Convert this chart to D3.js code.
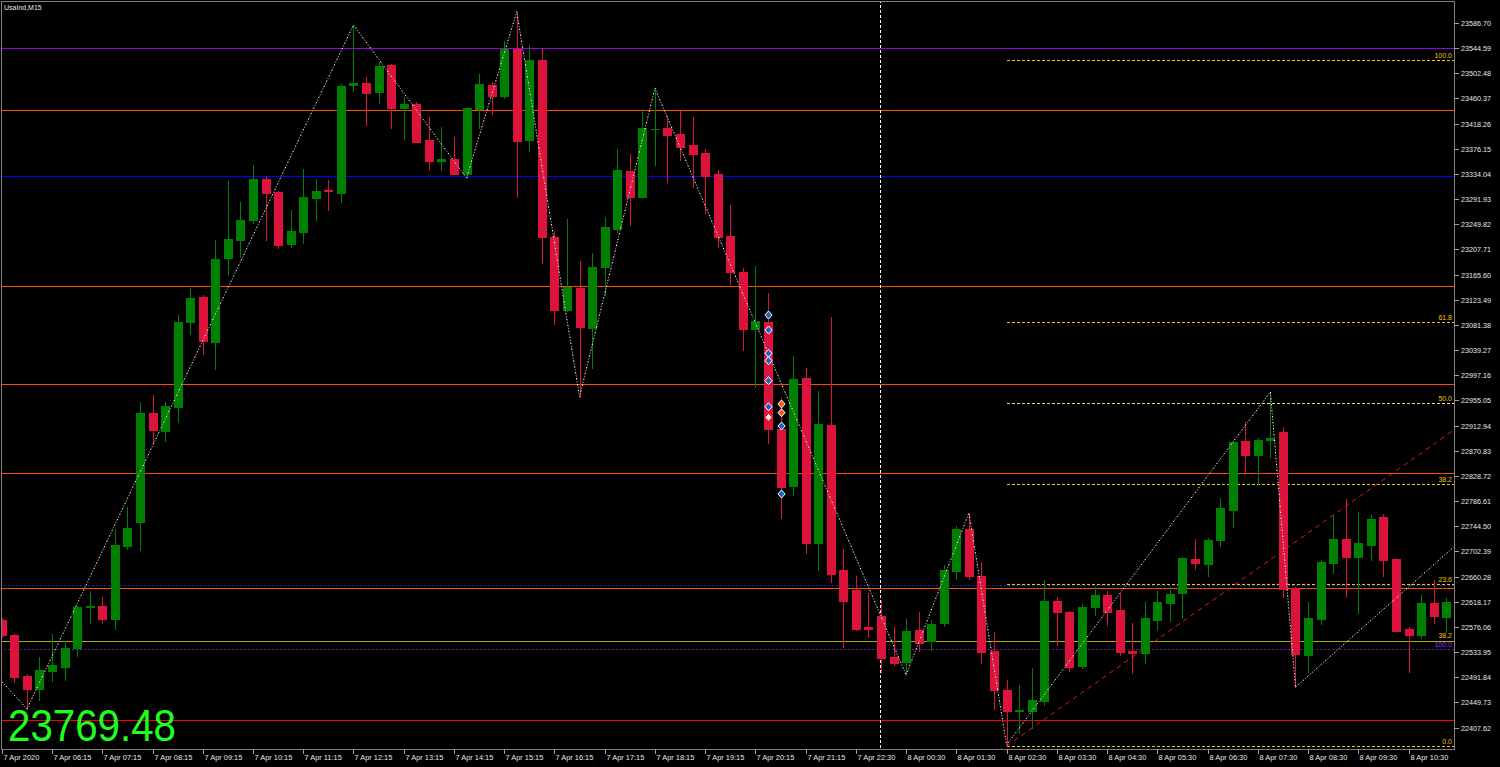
<!DOCTYPE html>
<html><head><meta charset="utf-8">
<script src="https://cdn.jsdelivr.net/npm/d3@7"></script>
<style>html,body{margin:0;padding:0;background:#000;overflow:hidden}</style>
</head><body><svg id="c" width="1500" height="767"></svg>
<script>
// ---------------- DATA ----------------
const symbol = "UsaInd,M15";
const bigPrice = "23769.48";
const opens = [22587.6,22562.5,22493.9,22472.1,22502.2,22509.7,22540.6,22608.5,22611.0,22589.2,
22711.4,22751.6,22934.0,22903.9,22944.0,23086.3,23128.1,23052.8,23194.0,23224.2,
23257.0,23325.6,23303.9,23216.5,23237.7,23293.8,23306.4,23302.7,23482.9,23485.8,
23470.7,23516.4,23445.0,23450.6,23390.4,23356.3,23358.6,23334.0,23442.8,23482.9,
23464.1,23543.2,23390.9,23525.3,23228.1,23106.4,23143.2,23075.7,23178.4,23241.9,
23338.5,23296.0,23408.5,23411.0,23400.4,23382.5,23369.1,23334.0,23230.2,23170.5,
23074.6,23085.8,22907.2,22812.3,22992.6,22716.9,22913.9,22671.3,22637.8,22576.4,
22594.3,22525.2,22516.5,22570.8,22552.4,22582.0,22670.1,22739.9,22661.8,22536.2,
22470.9,22434.6,22435.8,22452.5,22619.4,22600.5,22511.1,22608.8,22629.4,22604.3,
22536.2,22532.3,22587.6,22616.5,22632.3,22690.2,22681.8,22721.5,22771.2,22886.6,
22863.7,22889.3,22902.2,22641.6,22529.0,22589.2,22683.5,22722.6,22693.5,22713.1,
22759.9,22689.7,22572.5,22562.5,22615.5,22593.1];
const highs = [22590.9,22564.1,22497.2,22524.8,22564.1,22552.3,22611.0,22636.1,22626.1,22739.9,
22776.7,22952.4,22964.1,22952.4,23098.7,23143.2,23131.5,23223.5,23322.8,23286.3,
23349.0,23331.1,23305.5,23273.7,23342.3,23325.6,23323.9,23483.8,23583.4,23496.3,
23521.4,23518.1,23462.5,23454.0,23429.7,23412.7,23395.9,23446.1,23501.4,23487.5,
23556.6,23605.6,23549.9,23544.4,23239.1,23258.7,23188.4,23201.3,23262.0,23375.8,
23367.5,23442.3,23477.4,23431.6,23439.4,23429.4,23375.8,23340.7,23282.1,23176.7,
23180.0,23134.3,22959.1,23029.4,23009.3,22971.3,23094.2,22706.4,22661.2,22632.2,
22621.0,22576.4,22589.2,22601.0,22587.6,22679.6,22744.9,22766.7,22685.4,22568.0,
22487.6,22479.2,22507.7,22654.6,22625.5,22602.6,22614.3,22642.3,22636.6,22631.1,
22582.0,22617.2,22635.6,22643.3,22693.5,22723.1,22725.3,22791.9,22886.6,22919.0,
22891.6,22969.1,22910.1,22643.3,22618.2,22688.0,22763.3,22789.6,22768.3,22763.8,
22764.5,22690.8,22576.4,22629.4,22654.6,22623.9];
const lows = [22559.1,22483.0,22438.6,22453.7,22485.5,22487.2,22527.3,22582.5,22582.5,22572.5,
22707.1,22704.7,22885.5,22887.2,22918.1,23066.9,23032.7,23007.6,23165.6,23195.4,
23252.5,23224.2,23209.8,23212.5,23218.5,23257.0,23273.7,23287.6,23473.1,23416.0,
23453.3,23411.5,23392.1,23386.7,23342.3,23340.7,23333.2,23327.3,23411.5,23433.9,
23461.7,23296.0,23372.5,23184.5,23082.4,23105.2,22961.3,23008.8,23131.5,23236.4,
23249.1,23293.3,23349.1,23321.1,23357.4,23311.7,23268.2,23212.3,23149.4,23039.4,
22977.5,22884.3,22757.8,22796.7,22699.2,22671.3,22651.7,22542.9,22570.8,22559.6,
22498.4,22512.2,22495.5,22536.2,22536.9,22578.0,22656.7,22656.7,22516.1,22438.6,
22378.4,22398.1,22406.6,22445.3,22545.8,22502.7,22506.8,22596.0,22579.2,22529.0,
22499.4,22515.1,22570.8,22586.4,22590.4,22672.9,22661.8,22711.9,22743.7,22833.1,
22815.2,22860.9,22626.5,22475.0,22501.0,22580.9,22666.8,22626.5,22598.8,22688.0,
22661.2,22568.3,22501.0,22557.0,22583.1,22568.0];
const closes = [22562.5,22492.2,22472.1,22503.9,22512.2,22540.6,22609.3,22610.2,22590.0,22713.1,
22741.5,22934.0,22905.6,22945.7,23086.3,23126.5,23054.5,23191.7,23225.2,23256.2,
23325.6,23301.7,23214.8,23238.7,23295.5,23305.5,23304.7,23481.8,23485.8,23469.1,
23514.7,23445.0,23450.6,23388.0,23355.3,23358.6,23334.5,23444.5,23484.6,23464.1,
23543.2,23389.7,23524.3,23229.1,23106.4,23145.4,23078.4,23178.9,23245.3,23340.7,
23295.0,23410.5,23409.8,23399.3,23379.7,23366.9,23331.1,23229.1,23170.5,23074.6,
23088.0,22907.2,22810.6,22990.9,22716.9,22915.6,22665.1,22619.9,22572.5,22573.1,
22524.5,22516.1,22569.6,22549.6,22580.9,22671.3,22739.9,22661.8,22534.5,22470.9,
22434.6,22436.6,22453.7,22619.4,22600.5,22509.4,22609.8,22629.4,22601.5,22534.5,
22532.3,22590.4,22617.7,22631.6,22691.9,22682.5,22721.0,22775.1,22885.0,22863.7,
22888.8,22892.7,22638.9,22530.6,22590.4,22684.8,22723.1,22693.5,22715.9,22756.6,
22688.0,22569.6,22562.5,22615.5,22594.3,22618.2];

const priceTicks = ["23586.70","23544.59","23502.48","23460.37","23418.26","23376.15","23334.04",
"23291.93","23249.82","23207.71","23165.60","23123.49","23081.38","23039.27","22997.16","22955.05",
"22912.94","22870.83","22828.72","22786.61","22744.50","22702.39","22660.28","22618.17","22576.06",
"22533.95","22491.84","22449.73","22407.62"];

const timeBars = [0,4,8,12,16,20,24,28,32,36,40,44,48,52,56,60,64,68,72,76,80,84,88,92,96,100,104,108,112];
const timeLabels = ["7 Apr 2020","7 Apr 06:15","7 Apr 07:15","7 Apr 08:15","7 Apr 09:15","7 Apr 10:15",
"7 Apr 11:15","7 Apr 12:15","7 Apr 13:15","7 Apr 14:15","7 Apr 15:15","7 Apr 16:15","7 Apr 17:15",
"7 Apr 18:15","7 Apr 19:15","7 Apr 20:15","7 Apr 21:15","7 Apr 22:30","8 Apr 00:30","8 Apr 01:30",
"8 Apr 02:30","8 Apr 03:30","8 Apr 04:30","8 Apr 05:30","8 Apr 06:30","8 Apr 07:30","8 Apr 08:30",
"8 Apr 09:30","8 Apr 10:30"];

// horizontal levels (prices)
const orangeLevels = [23440.3, 23146.5, 22981.7, 22833.1, 22641.6];
const purpleLevel = 23544.6;
const blueLevel = 23330.6;
const redLevel = 22420.2;
const blueDotLevel = 22645.3;
const oliveLevel = 22552.9;
const purpleDotLevel = 22539.5;

// fibonacci
const fibLow = 22376.7, fibHigh = 23524.8, fibStartBar = 80;
const fibRatios = [0, 23.6, 38.2, 50, 61.8, 100];
const fibLabels = ["0.0","23.6","38.2","50.0","61.8","100.0"];
const fib2Labels = ["38.2","100.0"];

// zigzag (bar index, price)
const zigBars   = [-0.14, 2, 28, 37, 41, 46, 52, 72, 77, 80, 101, 103, 115.6];
const zigPrices = [22488.0, 22438.6, 23583.4, 23327.3, 23605.6, 22961.3, 23477.4, 22495.5, 22766.7, 22378.4, 22969.1, 22475.0, 22709.7];

// red dashed trend line
const trendBars = [80, 115.6];
const trendPrices = [22376.7, 22905.5];

// separator
const separatorBar = 69.92;

// signal markers
const blueMarkBars = [61,61,61,61,61,61,62,62];
const blueMarkPrices = [23098.0,23072.9,23033.9,23021.5,22988.1,22944.5,22912.2,22798.4];
const orangeMarkBars = [62,62];
const orangeMarkPrices = [22949.1,22934.5];
const whiteMarkBars = [61];
const whiteMarkPrices = [22926.8];

// ---------------- DRAW ----------------
const W = 1500, H = 767;
const plotR = 1454, plotB = 749;
const svg = d3.select("#c");
svg.append("rect").attr("width",W).attr("height",H).attr("fill","#000");

const x = d3.scaleLinear().domain([0,115]).range([1.8, 1.8 + 115*12.56]);
const y = d3.scaleLinear().domain([22407.62, 23586.70]).range([727.5, 23.0]);

const defs = svg.append("defs");
defs.append("clipPath").attr("id","plot").append("rect")
  .attr("x",2).attr("y",2).attr("width",plotR-2).attr("height",plotB-2);

const g = svg.append("g").attr("clip-path","url(#plot)");

function hline(p, color, dash, x0) {
  g.append("line").attr("x1", x0 === undefined ? 0 : x0).attr("x2", plotR)
    .attr("y1", Math.round(y(p))+0.5).attr("y2", Math.round(y(p))+0.5)
    .attr("stroke", color).attr("stroke-width",1.2)
    .attr("stroke-dasharray", dash || null)
    .attr("shape-rendering","crispEdges");
}
hline(purpleLevel, "#9a00e0");
orangeLevels.forEach(p => hline(p, "#ff4a00"));
hline(blueLevel, "#0000ff");
hline(redLevel, "#ff0000");
hline(blueDotLevel, "#2020c0", "2,2");
hline(oliveLevel, "#a8a818");
hline(purpleDotLevel, "#6a1aa0", "2,2");

// separator
g.append("line").attr("x1", Math.round(x(separatorBar))+0.5).attr("x2", Math.round(x(separatorBar))+0.5)
  .attr("y1",0).attr("y2",plotB).attr("stroke","#ffffff").attr("stroke-dasharray","3,2")
  .attr("shape-rendering","crispEdges");

// fib lines
const fibY = r => y(fibLow + (fibHigh - fibLow) * r / 100);
fibRatios.forEach((r,k) => {
  hline(fibLow + (fibHigh - fibLow) * r / 100, r === 50 ? "#e6dc9a" : "#f0c800", "3,2", x(fibStartBar));
});

// trend line
const line = d3.line().x(d => x(d[0])).y(d => y(d[1]));
g.append("path").attr("d", line(trendBars.map((b,k)=>[b,trendPrices[k]])))
  .attr("fill","none").attr("stroke","#e01818").attr("stroke-width",1).attr("stroke-dasharray","5,4");

// candles
const cg = g.append("g").attr("shape-rendering","crispEdges");
opens.forEach((o,i) => {
  const c = closes[i], up = c >= o;
  const col = up ? "#008000" : "#dc143c";
  const cx = Math.round(x(i));
  cg.append("line").attr("x1",cx+0.5).attr("x2",cx+0.5)
    .attr("y1",Math.round(y(highs[i]))).attr("y2",Math.round(y(lows[i]))+1)
    .attr("stroke",col).attr("stroke-width",1);
  const yt = Math.round(y(Math.max(o,c))), yb = Math.round(y(Math.min(o,c)));
  cg.append("rect").attr("x",cx-4).attr("y",yt).attr("width",9).attr("height",Math.max(1,yb-yt+1))
    .attr("fill",col);
});

// zigzag
const zz = zigBars.map((b,k)=>[b,zigPrices[k]]);
g.append("path").attr("d", line(zz)).attr("fill","none").attr("stroke","#a09680")
  .attr("stroke-width",1).attr("stroke-dasharray","1.5,4.5");
g.append("path").attr("d", line(zz)).attr("fill","none").attr("stroke","#ffffff")
  .attr("stroke-width",1).attr("stroke-dasharray","1.5,4.5").attr("stroke-dashoffset",3);

// markers
function diamond(cx, cy) {
  return `M${cx},${cy-4}L${cx+3.6},${cy}L${cx},${cy+4}L${cx-3.6},${cy}Z`;
}
function marks(bars, prices, fill, stroke) {
  bars.forEach((b,k) => {
    g.append("path").attr("d", diamond(Math.round(x(b))+0.5, y(prices[k])))
      .attr("fill", fill).attr("stroke", stroke).attr("stroke-width",1);
  });
}
marks(blueMarkBars, blueMarkPrices, "#1f62c8", "#ffffff");
marks(orangeMarkBars, orangeMarkPrices, "#ff5a1e", "#ffffff");
marks(whiteMarkBars, whiteMarkPrices, "#ffe6dc", "#e8281e");

// fib labels
const lab = svg.append("g").attr("font-family","Liberation Sans, Arial, sans-serif").attr("font-size","7px");
fibRatios.forEach((r,k) => {
  lab.append("text").attr("x",1452).attr("y",fibY(r)-2).attr("text-anchor","end")
    .attr("fill","#f0c800").text(fibLabels[k]);
});
lab.append("text").attr("x",1452).attr("y",y(oliveLevel)-3).attr("text-anchor","end")
  .attr("fill","#f0c800").text(fib2Labels[0]);
lab.append("text").attr("x",1452).attr("y",y(purpleDotLevel)-2).attr("text-anchor","end")
  .attr("fill","#9b30ff").text(fib2Labels[1]);

// frame
svg.append("rect").attr("x",1.5).attr("y",1.5).attr("width",plotR-1.5).attr("height",plotB-1.5)
  .attr("fill","none").attr("stroke","#808080").attr("stroke-width",1).attr("shape-rendering","crispEdges");

// price axis
const pa = svg.append("g").attr("font-family","Liberation Sans, Arial, sans-serif").attr("font-size","7.2px").attr("fill","#e8e8e8");
priceTicks.forEach(t => {
  const yy = Math.round(y(+t))+0.5;
  pa.append("line").attr("x1",plotR).attr("x2",plotR+5).attr("y1",yy).attr("y2",yy)
    .attr("stroke","#a0a0a0").attr("shape-rendering","crispEdges");
  pa.append("text").attr("x",plotR+7).attr("y",yy+2.6).text(t);
});

// time axis
const ta = svg.append("g").attr("font-family","Liberation Sans, Arial, sans-serif").attr("font-size","7.4px").attr("fill","#e8e8e8");
timeBars.forEach((b,k) => {
  const xx = Math.round(x(b))+0.5;
  ta.append("line").attr("x1",xx).attr("x2",xx).attr("y1",plotB).attr("y2",plotB+5)
    .attr("stroke","#a0a0a0").attr("shape-rendering","crispEdges");
  ta.append("text").attr("x",Math.max(1,xx+1)).attr("y",760).text(timeLabels[k]);
});

// title
svg.append("text").attr("x",4).attr("y",10).attr("font-family","Liberation Sans, Arial, sans-serif")
  .attr("font-size","7px").attr("fill","#e8e8e8").text(symbol);

// big price
svg.append("text").attr("x",8).attr("y",741).attr("font-family","Liberation Sans, Arial, sans-serif")
  .attr("font-size","44px").attr("fill","#1eff1e").attr("textLength",168).attr("lengthAdjust","spacingAndGlyphs")
  .text(bigPrice);
</script></body></html>
